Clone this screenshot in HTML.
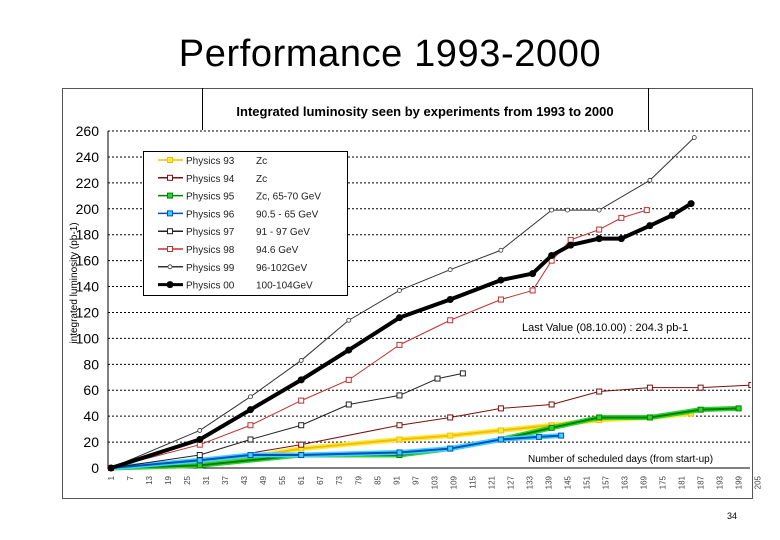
<!DOCTYPE html>
<html><head><meta charset="utf-8"><style>
body{margin:0;background:#fff;}
svg{display:block;font-family:"Liberation Sans",sans-serif;}
</style></head><body>
<svg id="c" width="780" height="540" viewBox="0 0 780 540">
<defs><clipPath id="pc"><rect x="100" y="120" width="651" height="360"/></clipPath></defs>
<text x="390" y="66" text-anchor="middle" font-size="38" letter-spacing="0.6" fill="#000">Performance 1993-2000</text>
<rect x="62.5" y="88.5" width="690" height="410" fill="#fff" stroke="#555"/>
<line x1="202.5" y1="88" x2="202.5" y2="130" stroke="#000"/>
<line x1="648.5" y1="88" x2="648.5" y2="130" stroke="#000"/>
<text x="425" y="116" text-anchor="middle" font-size="13" font-weight="bold">Integrated luminosity seen by experiments from 1993 to 2000</text>
<text transform="translate(77,283) rotate(-90)" text-anchor="middle" font-size="10">integrated luminosity (pb-1)</text>
<text x="522" y="331" font-size="11">Last Value (08.10.00) : 204.3 pb-1</text>
<text x="528" y="462" font-size="10">Number of scheduled days (from start-up)</text>
<text x="727" y="519" font-size="9">34</text>
<g id="grid"></g><g id="series" clip-path="url(#pc)"></g><g id="legend"></g>
</svg>
<script>
const yTicks=[0,20,40,60,80,100,120,140,160,180,200,220,240,260];
const xTicks=[1,7,13,19,25,31,37,43,49,55,61,67,73,79,85,91,97,103,109,115,121,127,133,139,145,151,157,163,169,175,181,187,193,199,205];
const names=["Physics 93","Physics 94","Physics 95","Physics 96","Physics 97","Physics 98","Physics 99","Physics 00"];
const energies=["Zc","Zc","Zc, 65-70 GeV","90.5 - 65 GeV","91 - 97 GeV","94.6 GeV","96-102GeV","100-104GeV"];
const d93=[1,29,61,92,108,124,140,155,171,184];
const v93=[0,2,15,22,25,29,33,37,39,42];
const d94=[1,29,61,92,108,124,140,155,171,187,203,207];
const v94=[0,5,18,33,39,46,49,59,62,62,64,66];
const d95=[1,29,61,92,108,124,140,155,171,187,199];
const v95=[0,2,10,10,15,22,31,39,39,45,46];
const d96=[1,29,45,61,92,108,124,136,143];
const v96=[0,6,10,10,12,15,22,24,25];
const d97=[1,29,45,61,76,92,104,112];
const v97=[0,10,22,33,49,56,69,73];
const d98=[1,29,45,61,76,92,108,124,134,140,146,155,162,170];
const v98=[0,18,33,52,68,95,114,130,137,160,176,184,193,199];
const d99=[1,29,45,61,76,92,108,124,140,145,155,171,185];
const v99=[0,29,55,83,114,137,153,168,199,199,199,222,255];
const d00=[1,29,45,61,76,92,108,124,134,140,146,155,162,171,178,184];
const v00=[0,22,45,68,91,116,130,145,150,164,172,177,177,187,195,204];
const X=d=>111+(d-1)*3.17, Y=v=>468-v*1.296;
const NS="http://www.w3.org/2000/svg";
function mk(t,a,p){const e=document.createElementNS(NS,t);for(const k in a)e.setAttribute(k,a[k]);p.appendChild(e);return e;}
const g=document.getElementById('grid');
yTicks.forEach(v=>{
 const l=mk('line',{x1:108,x2:750,y1:Y(v),y2:Y(v),stroke:'#000','stroke-dasharray':v?'2,2':'none'},g);
 
 
 const t=mk('text',{x:99,y:Y(v)+5,'text-anchor':'end','font-size':14},g);t.textContent=v;
 
 
});
const ax=mk('line',{x1:108,x2:108,y1:131,y2:469,stroke:'#000'},g);


xTicks.forEach(d=>{
 const t=mk('text',{'font-size':8,fill:'#444',transform:`translate(${X(d)+3},476) rotate(-90)`,'text-anchor':'end'},g);t.textContent=d;
 
 
});
const sty=[
 {c:'#f0c000',f:'#ffe840',w:2,m:'sq'},{c:'#7a1010',f:'#fff',w:1,m:'sq'},{c:'#008000',f:'#30d030',w:2,m:'sq'},
 {c:'#0050c0',f:'#40d0ff',w:2,m:'sq'},{c:'#222',f:'#fff',w:1,m:'sq'},{c:'#c03030',f:'#fff',w:1,m:'sq'},
 {c:'#333',f:'#fff',w:1,m:'tri'},{c:'#000',f:'#000',w:4,m:'dot'}];
const data=[[d93,v93],[d94,v94],[d95,v95],[d96,v96],[d97,v97],[d98,v98],[d99,v99],[d00,v00]];
const s=document.getElementById('series');
function marker(x,y,st,p){
 let e;
 if(st.m==='dot')e=mk('circle',{cx:x,cy:y,r:3.5,fill:'#000'},p);
 else if(st.m==='tri')e=mk('circle',{cx:x,cy:y,r:2,fill:'#fff',stroke:st.c,'stroke-width':0.8},p);
 else e=mk('rect',{x:x-2.5,y:y-2.5,width:5,height:5,fill:st.f,stroke:st.c,'stroke-width':1},p);
 return e;
}
data.forEach((dv,i)=>{
 const st=sty[i];const [ds,vs]=dv;
 const grp=mk('g',{},s);
 
 
 const pts=ds.map((d,j)=>X(d)+','+Y(vs[j])).join(' ');
 if(st.f!=='#fff'&&st.m==='sq') mk('polyline',{points:pts,fill:'none',stroke:st.f,'stroke-width':5},grp);
 mk('polyline',{points:pts,fill:'none',stroke:st.c,'stroke-width':st.w,'stroke-linejoin':'round'},grp);
 ds.forEach((d,j)=>{const m=marker(X(d),Y(vs[j]),st,grp);
  
  });
});
const L=document.getElementById('legend');
const box=mk('rect',{x:143.5,y:151.5,width:204,height:144,fill:'#fff',stroke:'#000'},L);


names.forEach((n,i)=>{
 const y=160+i*17.8;const st=sty[i];
 const e=mk('g',{},L);
 
 
 mk('line',{x1:158,x2:183,y1:y,y2:y,stroke:st.c,'stroke-width':st.w>2?3:1.5},e);
 marker(170,y,st,e);
 const t=mk('text',{x:186,y:y+4,'font-size':10,fill:'#222'},e);t.textContent=n;
 const t2=mk('text',{x:256,y:y+4,'font-size':10,fill:'#222'},e);t2.textContent=energies[i];
});
</script>
</body></html>
